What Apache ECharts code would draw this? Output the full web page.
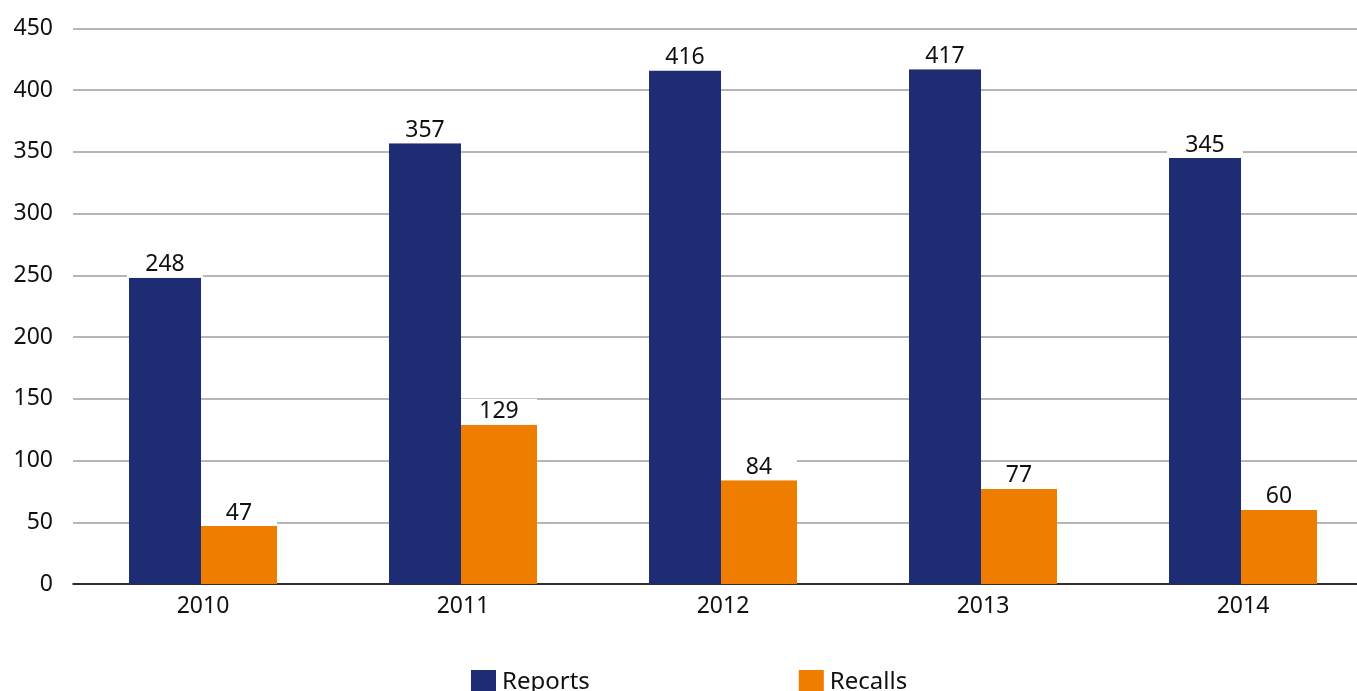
<!DOCTYPE html>
<html>
<head>
<meta charset="utf-8">
<script src="https://cdn.jsdelivr.net/npm/echarts@6/dist/echarts.min.js"></script>
<style>
  html, body { margin: 0; padding: 0; background: #fff; }
  #chart { width: 1357px; height: 691px; }
</style>
</head>
<body>
<div id="chart"></div>
<script>
// Yearly counts of reports and recalls
const years = ['2010', '2011', '2012', '2013', '2014'];
const reports = [248, 357, 416, 417, 345];
const recalls = [47, 129, 84, 77, 60];
const yTicks = { min: 0, max: 450, interval: 50 };

const FONT = '"Noto Sans", "Open Sans", sans-serif';

const valueLabel = {
  show: true,
  position: 'top',
  distance: 0,
  color: '#111',
  fontFamily: FONT,
  fontSize: 23,
  backgroundColor: '#fff',
  width: 76,
  align: 'center',
  padding: [0, 0, 0, 0],
  lineHeight: 26
};

const chart = echarts.init(document.getElementById('chart'), null, { renderer: 'canvas' });
chart.setOption({
  animation: false,
  backgroundColor: '#fff',
  // plot area runs past the right edge of the canvas
  grid: {
    left: 73, width: 1300, top: 28.5, bottom: 107,
    containLabel: false, outerBoundsMode: 'none'
  },
  legend: {
    data: ['Reports', 'Recalls'],
    bottom: -9,
    left: 466,
    itemWidth: 25,
    itemHeight: 25,
    itemGap: 209,
    icon: 'rect',
    textStyle: { fontFamily: FONT, fontSize: 24, color: '#111', padding: [0, 0, 0, 1] }
  },
  xAxis: {
    type: 'category',
    data: years,
    axisLine: { lineStyle: { color: '#000', width: 1.5 } },
    axisTick: { show: false },
    axisLabel: { color: '#111', fontFamily: FONT, fontSize: 23, margin: 11 }
  },
  yAxis: {
    type: 'value',
    min: yTicks.min,
    max: yTicks.max,
    interval: yTicks.interval,
    axisLine: { show: false },
    axisTick: { show: false },
    axisLabel: { color: '#111', fontFamily: FONT, fontSize: 23, margin: 20 },
    splitLine: { lineStyle: { color: '#9e9e9e', width: 1.5 } }
  },
  series: [
    {
      name: 'Reports',
      type: 'bar',
      data: reports,
      barWidth: 72,
      barGap: '0%',
      itemStyle: { color: '#1e2d73' },
      label: valueLabel,
      z: 3
    },
    {
      name: 'Recalls',
      type: 'bar',
      data: recalls,
      barWidth: 76,
      barGap: '0%',
      itemStyle: { color: '#ef7d00' },
      label: valueLabel,
      z: 2
    }
  ]
});
</script>
</body>
</html>
